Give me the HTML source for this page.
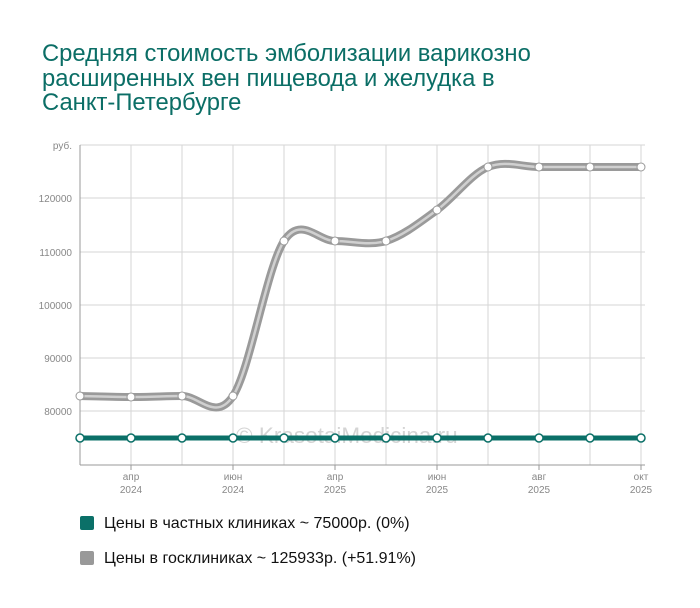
<!DOCTYPE html>
<html><head><meta charset="utf-8"><style>
body{margin:0;background:#fff;width:700px;height:608px;overflow:hidden;font-family:"Liberation Sans",sans-serif}
.t{position:absolute;left:42px;top:42px;font-size:23.8px;line-height:24.5px;color:#0b6e66}
.lg{position:absolute;left:80px;font-size:16px;color:#111}
.lg span{display:inline-block;width:14px;height:14px;border-radius:2px;vertical-align:-2px;margin-right:10px}
</style></head><body>
<div class="t">Средняя стоимость эмболизации варикозно<br>расширенных вен пищевода и желудка в<br>Санкт-Петербурге</div>
<svg width="700" height="608" style="position:absolute;left:0;top:0">
<g id="grid" stroke="#d6d6d6" stroke-width="1"></g>
<g font-size="10" fill="#888" text-anchor="end">
<text x="72" y="149">руб.</text>
<text x="72" y="202">120000</text>
<text x="72" y="256">110000</text>
<text x="72" y="309">100000</text>
<text x="72" y="362">90000</text>
<text x="72" y="415">80000</text>
</g>
<line x1="80" y1="145" x2="80" y2="465" stroke="#999"/>
<line x1="80" y1="465" x2="645" y2="465" stroke="#999"/>
<g font-size="10" fill="#888" text-anchor="middle">
<text x="131" y="480">апр</text><text x="131" y="493">2024</text>
<text x="233" y="480">июн</text><text x="233" y="493">2024</text>
<text x="335" y="480">апр</text><text x="335" y="493">2025</text>
<text x="437" y="480">июн</text><text x="437" y="493">2025</text>
<text x="539" y="480">авг</text><text x="539" y="493">2025</text>
<text x="641" y="480">окт</text><text x="641" y="493">2025</text>
</g>
<g stroke="#999"><line x1="131" y1="465" x2="131" y2="470"/><line x1="233" y1="465" x2="233" y2="470"/><line x1="335" y1="465" x2="335" y2="470"/><line x1="437" y1="465" x2="437" y2="470"/><line x1="539" y1="465" x2="539" y2="470"/><line x1="641" y1="465" x2="641" y2="470"/></g>
<text x="236" y="443" font-size="22.5" fill="#d4d4d4">© KrasotaiMedicina.ru</text>
<path id="g1" fill="none" stroke="#9a9a9a" stroke-width="8"/>
<path id="g2" fill="none" stroke="#d0d0d0" stroke-width="2.5"/>
<line x1="80" y1="438" x2="641" y2="438" stroke="#0b7068" stroke-width="5"/>
<g id="mk"></g>
</svg>
<div class="lg" style="top:515px"><span style="background:#0b7068"></span>Цены в частных клиниках ~ 75000р. (0%)</div>
<div class="lg" style="top:550px"><span style="background:#999"></span>Цены в госклиниках ~ 125933р. (+51.91%)</div>
<script>
var xs=[],ys=[396,397,396,396,241,241,241,210,167,167,167,167];
for(var i=0;i<12;i++)xs.push(80+51*i);
var g=document.getElementById('grid'),h='';
for(var i=1;i<12;i++)h+='<line x1="'+xs[i]+'" y1="145" x2="'+xs[i]+'" y2="465"/>';
[145,198,252,305,358,411].forEach(function(y){h+='<line x1="80" y1="'+y+'" x2="645" y2="'+y+'"/>'});
g.innerHTML=h;
var d='M'+xs[0]+' '+ys[0];
for(var i=0;i<11;i++){var p0=i?i-1:0,p3=i<10?i+2:11;
var c1x=xs[i]+(xs[i+1]-xs[p0])/6,c1y=ys[i]+(ys[i+1]-ys[p0])/6,c2x=xs[i+1]-(xs[p3]-xs[i])/6,c2y=ys[i+1]-(ys[p3]-ys[i])/6;
d+=' C'+c1x+' '+c1y+' '+c2x+' '+c2y+' '+xs[i+1]+' '+ys[i+1];}
document.getElementById('g1').setAttribute('d',d);document.getElementById('g2').setAttribute('d',d);
var m='';for(var i=0;i<12;i++){m+='<circle cx="'+xs[i]+'" cy="'+ys[i]+'" r="4" fill="#fff" stroke="#999" stroke-width="1"/>';m+='<circle cx="'+xs[i]+'" cy="438" r="4" fill="#fff" stroke="#0b7068" stroke-width="1.5"/>';}
document.getElementById('mk').innerHTML=m;
</script>
</body></html>
